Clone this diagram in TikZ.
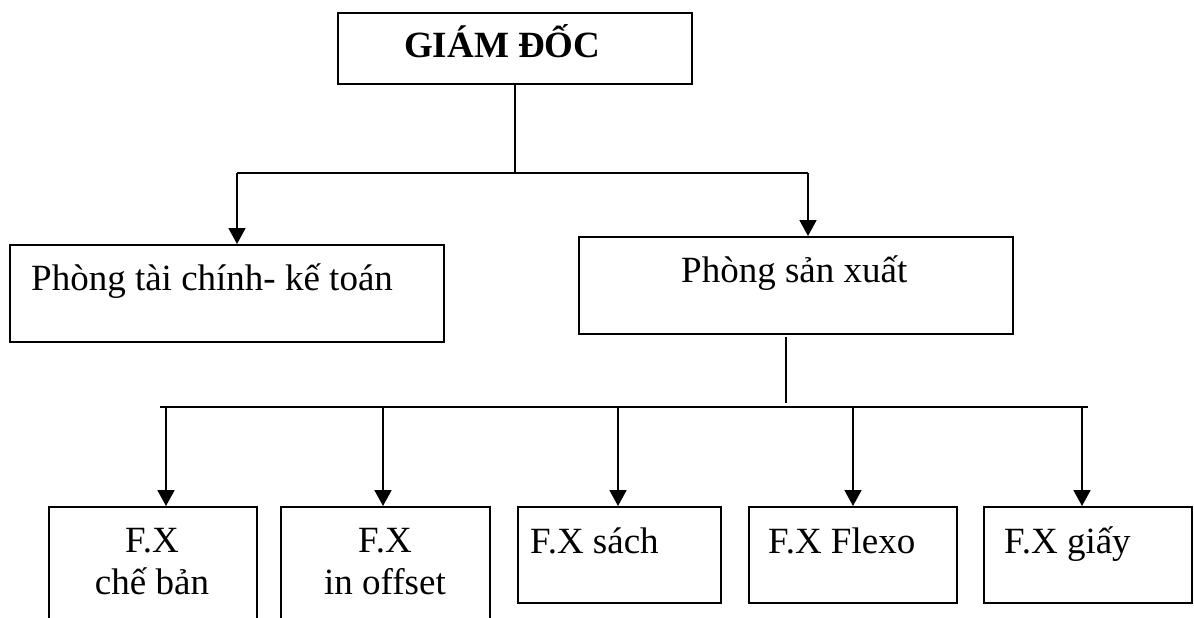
\documentclass[tikz,border=0pt]{standalone}
\usepackage{fontspec}
\setmainfont{Liberation Serif}
\usetikzlibrary{arrows.meta}

\tikzset{
  orgbox/.style={draw=black, line width=1.8pt, rectangle, inner sep=0pt, anchor=north west},
  orgtext/.style={inner sep=0pt, font=\fontsize{37}{42}\selectfont},
  link/.style={draw=black, line width=1.8pt},
  linkarrow/.style={link, -{Triangle[length=16pt, width=17pt]}}
}

\begin{document}
\begin{tikzpicture}[x=1pt, y=-1pt]
  % page frame (also cuts the open-ended boxes at the bottom edge)
  \clip (0,0) rectangle (1194,618);
  \fill[white] (0,0) rectangle (1194,618);

  % boxes
  \node[orgbox, minimum width=354pt, minimum height=71pt] (gd) at (337,12) {};
  \node[orgbox, minimum width=434pt, minimum height=97pt] (tc) at (9,244) {};
  \node[orgbox, minimum width=434pt, minimum height=97pt] (sx) at (578,236) {};
  \node[orgbox, minimum width=208pt, minimum height=140pt] (b1) at (48,506) {};
  \node[orgbox, minimum width=209pt, minimum height=140pt] (b2) at (280,506) {};
  \node[orgbox, minimum width=203pt, minimum height=96pt] (b3) at (517,506) {};
  \node[orgbox, minimum width=208pt, minimum height=96pt] (b4) at (748,506) {};
  \node[orgbox, minimum width=208pt, minimum height=96pt] (b5) at (983,506) {};

  % texts
  \node[orgtext, anchor=base west, font=\fontsize{37}{42}\selectfont\bfseries] (gdt) at (404,58) {GIÁM ĐỐC};
  \node[orgtext, anchor=base west] (tct) at (31,290) {Phòng tài chính- kế toán};
  \node[orgtext, anchor=base west] (sxt) at (681,282) {Phòng sản xuất};
  \node[orgtext, anchor=base] (b1a) at (152,552) {F.X};
  \node[orgtext, anchor=base] (b1b) at (152,594) {chế bản};
  \node[orgtext, anchor=base] (b2a) at (385,552) {F.X};
  \node[orgtext, anchor=base] (b2b) at (385,594) {in offset};
  \node[orgtext, anchor=base west] (b3t) at (530,553) {F.X sách};
  \node[orgtext, anchor=base west] (b4t) at (768,553) {F.X Flexo};
  \node[orgtext, anchor=base west] (b5t) at (1004,553) {F.X giấy};

  % upper level connectors
  \coordinate (top) at (515,173);
  \coordinate (tl) at (237,173);
  \coordinate (tr) at (808,173);
  \draw[link] (top |- gd.south) -- (top);
  \draw[link] (tl) -- (tr);
  \draw[linkarrow] (tl) -- (tl |- tc.north);
  \draw[linkarrow] (tr) -- (tr |- sx.north);

  % lower level connectors
  \coordinate (s1) at (786,337);
  \coordinate (s2) at (786,403);
  \coordinate (bl) at (160,407);
  \coordinate (br) at (1088,407);
  \draw[link] (s1) -- (s2);
  \draw[link] (bl) -- (br);
  \coordinate (a1) at (166,407);
  \coordinate (a2) at (383,407);
  \coordinate (a3) at (618,407);
  \coordinate (a4) at (853,407);
  \coordinate (a5) at (1082,407);
  \draw[linkarrow] (a1) -- (a1 |- b1.north);
  \draw[linkarrow] (a2) -- (a2 |- b2.north);
  \draw[linkarrow] (a3) -- (a3 |- b3.north);
  \draw[linkarrow] (a4) -- (a4 |- b4.north);
  \draw[linkarrow] (a5) -- (a5 |- b5.north);
\end{tikzpicture}
\end{document}
